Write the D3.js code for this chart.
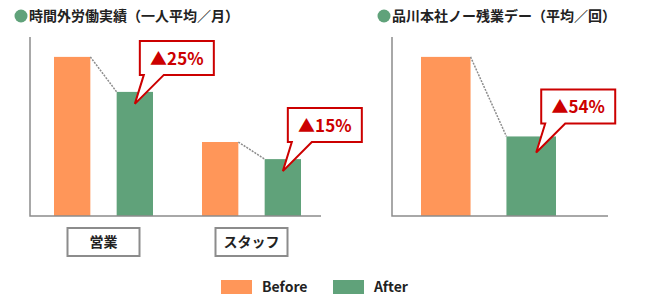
<!DOCTYPE html>
<html>
<head>
<meta charset="utf-8">
<script src="https://cdn.jsdelivr.net/npm/d3@7"></script>
<style>
  body { margin: 0; background: #fff; }
  svg { display: block; font-family: "Noto Sans CJK JP", "Noto Sans", sans-serif; }
</style>
</head>
<body>
<div id="chart"></div>
<script>
// chart data
const titles = ["時間外労働実績（一人平均／月）", "品川本社ノー残業デー（平均／回）"];
const series = ["Before", "After"];
const leftCategories = ["営業", "スタッフ"];
const leftBefore = [40, 18.6];
const leftAfter = [31.2, 14.3];
const leftChange = ["▲25%", "▲15%"];
const rightBefore = [40];
const rightAfter = [20];
const rightChange = ["▲54%"];

const colors = { Before: "#FF9659", After: "#60A27A" };
const red = "#CC0000";
const gray = "#8c8c8c";

const svg = d3.select("#chart").append("svg")
  .attr("width", 660).attr("height", 300);

// titles
const titleX = [14, 377];
titles.forEach((t, i) => {
  svg.append("circle").attr("cx", titleX[i] + 7).attr("cy", 16).attr("r", 6.5).attr("fill", colors.After);
  svg.append("text").attr("x", titleX[i] + 15).attr("y", 21)
    .attr("font-size", 14).attr("font-weight", "bold").attr("fill", "#222").text(t);
});

const y = d3.scaleLinear().domain([0, 45]).range([216, 37]);

// callout: tip on the after bar, box up and to the right
const callout = (g, tx, ty, label) => {
  const bx = tx + 5, bw = 74, bh = 34, by = ty - 29 - bh;
  const bb = by + bh;
  const path = d3.path();
  path.moveTo(bx, by);
  path.lineTo(bx + bw, by);
  path.lineTo(bx + bw, bb);
  path.lineTo(bx + 24, bb);
  path.lineTo(tx, ty);
  path.lineTo(bx + 4, bb);
  path.lineTo(bx, bb);
  path.closePath();
  g.append("path").attr("d", path.toString())
    .attr("fill", "#fff").attr("stroke", red).attr("stroke-width", 2).attr("stroke-linejoin", "miter");
  g.append("text").attr("x", bx + bw / 2).attr("y", by + 24)
    .attr("text-anchor", "middle").attr("font-size", 17).attr("font-weight", "bold")
    .attr("fill", red).text(label);
};

const drawGroup = (g, x0, bw, before, after, label) => {
  const inner = d3.scaleBand().domain(series).range([x0, x0 + bw]).paddingInner(0.42);
  const vals = { Before: before, After: after };
  series.forEach(s => {
    g.append("rect")
      .attr("x", inner(s)).attr("width", inner.bandwidth())
      .attr("y", y(vals[s])).attr("height", y(0) - y(vals[s]))
      .attr("fill", colors[s]);
  });
  g.append("line")
    .attr("x1", inner("Before") + inner.bandwidth()).attr("y1", y(before))
    .attr("x2", inner("After")).attr("y2", y(after))
    .attr("stroke", gray).attr("stroke-width", 1.5).attr("stroke-dasharray", "2,1.2");
  return { tx: inner("After") + inner.bandwidth() / 2, ty: y(after) + 12, label };
};

// left chart
const left = svg.append("g");
const xL = d3.scaleBand().domain(leftCategories).range([29.5, 325.5]);
const leftCallouts = leftCategories.map((c, i) => {
  const center = xL(c) + xL.bandwidth() / 2;
  return drawGroup(left, center - 49.5, 99, leftBefore[i], leftAfter[i], leftChange[i]);
});
left.append("path").attr("d", `M30,${y.range()[1]}V${y(0)}H321`)
  .attr("fill", "none").attr("stroke", gray).attr("stroke-width", 1.5);
leftCategories.forEach(c => {
  const center = xL(c) + xL.bandwidth() / 2;
  left.append("rect").attr("x", center - 36).attr("y", 228).attr("width", 72).attr("height", 28)
    .attr("fill", "#fff").attr("stroke", gray).attr("stroke-width", 2);
  left.append("text").attr("x", center).attr("y", 247).attr("text-anchor", "middle")
    .attr("font-size", 14).attr("font-weight", "bold").attr("fill", "#222").text(c);
});
leftCallouts.forEach(o => callout(left, o.tx, o.ty, o.label));

// right chart
const right = svg.append("g");
const rightCallouts = rightBefore.map((b, i) => drawGroup(right, 421, 135, b, rightAfter[i], rightChange[i]));
right.append("path").attr("d", `M392,${y.range()[1]}V${y(0)}H608`)
  .attr("fill", "none").attr("stroke", gray).attr("stroke-width", 1.5);
rightCallouts.forEach(o => callout(right, o.tx + 5, o.ty + 4, o.label));

// legend
const legend = svg.append("g");
const legX = [221, 333];
series.forEach((s, i) => {
  legend.append("rect").attr("x", legX[i]).attr("y", 280).attr("width", 31).attr("height", 14).attr("fill", colors[s]);
  legend.append("text").attr("x", legX[i] + 41).attr("y", 292)
    .attr("font-size", 14).attr("font-weight", "bold").attr("fill", "#222").text(s);
});
</script>
</body>
</html>
